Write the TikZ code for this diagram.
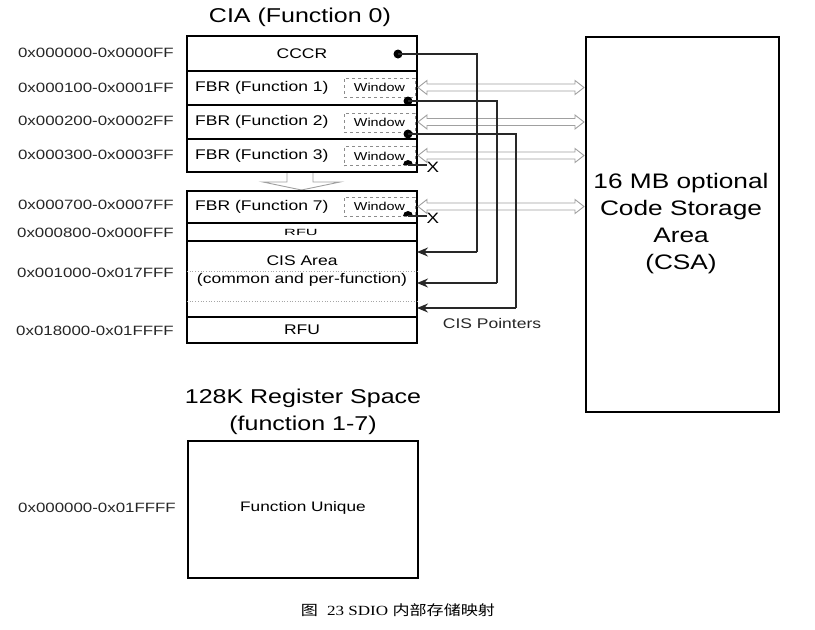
\documentclass[tikz,border=0pt]{standalone}
\usepackage{fontspec}
\setmainfont[FakeStretch=1.25]{Liberation Sans}
\newfontfamily\cjk[FakeStretch=1.22]{Noto Sans CJK SC}
\newfontfamily\timesf[FakeStretch=1.22]{Liberation Serif}
\usetikzlibrary{arrows.meta,calc}
\definecolor{hollow}{RGB}{160,160,160}
\definecolor{ptrc}{RGB}{40,40,40}
\begin{document}
\begin{tikzpicture}[x=1pt,y=-1pt,
  row/.style={draw=black,line width=1.7pt,minimum width=230pt,inner sep=0pt,outer sep=0pt},
  addr/.style={anchor=east,inner sep=0pt,font=\fontsize{13.5}{15}\selectfont,text=black!85},
  lbl/.style={anchor=west,inner sep=0pt,font=\fontsize{14}{16}\selectfont},
  win/.style={draw=black!45,dashed,line width=0.7pt,minimum width=71pt,minimum height=19pt,inner sep=0pt,font=\fontsize{11.5}{12}\selectfont},
  ptr/.style={draw=ptrc,line width=1.4pt},
  ptrarrow/.style={ptr,-{Stealth[length=11pt,width=9pt]}},
  xmark/.style={inner sep=0pt,font=\fontsize{15}{16}\selectfont},
  title/.style={inner sep=0pt,font=\fontsize{20}{22}\selectfont}]
\useasboundingbox (0,0) rectangle (815,630);
% title
\node[title] (ciat) at (300,17) {CIA (Function 0)};
% first block
\node[row,minimum height=35pt,anchor=north west] (cccr) at (187,36) {};
\node[row,minimum height=34pt,anchor=north west] (f1) at (187,71) {};
\node[row,minimum height=34pt,anchor=north west] (f2) at (187,105) {};
\node[row,minimum height=33pt,anchor=north west] (f3) at (187,139) {};
\node[inner sep=0pt,font=\fontsize{14}{16}\selectfont] (cccrt) at (302,53.5) {CCCR};
\node[lbl] (f1t) at (195,88) {FBR (Function 1)};
\node[lbl] (f2t) at (195,122) {FBR (Function 2)};
\node[lbl] (f3t) at (195,156) {FBR (Function 3)};
\node[win] (w1) at (379.5,87.5) {Window};
\node[win] (w2) at (379.5,122.5) {Window};
\node[win] (w3) at (379.5,156) {Window};
% gap arrow
\draw[hollow,line width=0.9pt] (287,173) -- (287,182) -- (263,182) -- (301.5,190) -- (340,182) -- (313,182) -- (313,173);
% second block
\node[row,minimum height=32pt,anchor=north west] (f7) at (187,191) {};
\node[row,minimum height=18pt,anchor=north west] (rfu1) at (187,223) {};
\node[row,minimum height=76pt,anchor=north west] (cis) at (187,241) {};
\node[row,minimum height=26pt,anchor=north west] (rfu2) at (187,317) {};
\node[lbl] (f7t) at (195,207) {FBR (Function 7)};
\node[win] (w7) at (379.5,206.5) {Window};
\node[inner sep=0pt,font=\fontsize{9}{10}\selectfont] (rfu1t) at (301,232) {\scalebox{1.45}[1]{RFU}};
\node[inner sep=0pt,font=\fontsize{14}{16}\selectfont] (cist) at (302,261) {CIS Area};
\node[inner sep=0pt,font=\fontsize{14}{16}\selectfont] (cist2) at (302,280) {(common and per-function)};
\node[inner sep=0pt,font=\fontsize{14}{16}\selectfont] (rfu2t) at (302,330) {RFU};
\draw[black!35,dotted,line width=0.7pt] (cis.west|-0,271) -- (cis.east|-0,271);
\draw[black!35,dotted,line width=0.7pt] (cis.west|-0,301) -- (cis.east|-0,301);
% addresses
\node[addr] (a0) at (174,53) {0x000000-0x0000FF};
\node[addr] (a1) at (174,88) {0x000100-0x0001FF};
\node[addr] (a2) at (174,121) {0x000200-0x0002FF};
\node[addr] (a3) at (174,155) {0x000300-0x0003FF};
\node[addr] (a7) at (174,205) {0x000700-0x0007FF};
\node[addr] (a8) at (174,233) {0x000800-0x000FFF};
\node[addr] (a9) at (174,273) {0x001000-0x017FFF};
\node[addr] (a10) at (174,331) {0x018000-0x01FFFF};
% CSA
\node[draw=black,line width=1.7pt,minimum width=193pt,minimum height=375pt,anchor=north west,inner sep=0pt] (csa) at (585,36) {};
\node[align=center,inner sep=0pt,font=\fontsize{21}{27}\selectfont] (csat) at (681,224) {16 MB optional\\Code Storage\\Area\\(CSA)};
% hollow double arrows
\foreach \yy in {87.5,122,155.5,206.5} {
  \draw[hollow,line width=0.9pt,fill=white]
    (418,\yy) -- (427,\yy-7) -- (427,\yy-3.5) -- (575,\yy-3.5) -- (575,\yy-7) -- (584,\yy)
    -- (575,\yy+7) -- (575,\yy+3.5) -- (427,\yy+3.5) -- (427,\yy+7) -- cycle;
}
% dots
\coordinate (d0) at (398,54);
\coordinate (d1) at (408,101);
\coordinate (d2) at (408,134);
\coordinate (d3) at (408,165);
\coordinate (d7) at (408,216);
\fill[black] (d0) circle (4.5pt);
\fill[black] (d1) circle (4.5pt);
\fill[black] (d2) circle (4.5pt);
\fill[black] ($(d3)+(5,0)$) arc[start angle=0,end angle=180,radius=5pt] -- cycle;
\fill[black] ($(d7)+(5,0)$) arc[start angle=0,end angle=180,radius=5pt] -- cycle;
% pointer targets
\coordinate (t0) at (cis.east|-0,252);
\coordinate (t1) at (cis.east|-0,283);
\coordinate (t2) at (cis.east|-0,308);
\coordinate (p0) at (477,252);
\coordinate (p1) at (497,283);
\coordinate (p2) at (516,308);
\draw[ptr] (d0) -| (p0);
\draw[ptrarrow] (p0) -- (t0);
\draw[ptr] (d1) -| (p1);
\draw[ptrarrow] (p1) -- (t1);
\draw[ptr] (d2) -| (p2);
\draw[ptrarrow] (p2) -- (t2);
% X ends
\node[xmark] (x3) at (433,167) {X};
\node[xmark] (x7) at (433,218) {X};
\draw[ptr] (d3) -- (d3-|x3.west);
\draw[ptr] (d7) -- (d7-|x7.west);
\node[inner sep=0pt,font=\fontsize{14}{15}\selectfont,text=black!85] (cisp) at (492,323) {CIS Pointers};
% register space
\node[title,font=\fontsize{20}{27}\selectfont,align=center] (regt) at (303,412) {128K Register Space\\(function 1-7)};
\node[draw=black,line width=1.7pt,minimum width=230pt,minimum height=137pt,anchor=north west,inner sep=0pt] (reg) at (187,440) {};
\node[inner sep=0pt,font=\fontsize{13.8}{15}\selectfont] (regu) at (303,508) {Function Unique};
\node[addr] (ar) at (176,508) {0x000000-0x01FFFF};
% caption
\node[inner sep=0pt,font=\fontsize{14}{16}\selectfont] (cap) at (398,610) {{\cjk 图}\hspace{9pt}{\timesf 23 SDIO }{\cjk 内部存储映射}};
\end{tikzpicture}
\end{document}
